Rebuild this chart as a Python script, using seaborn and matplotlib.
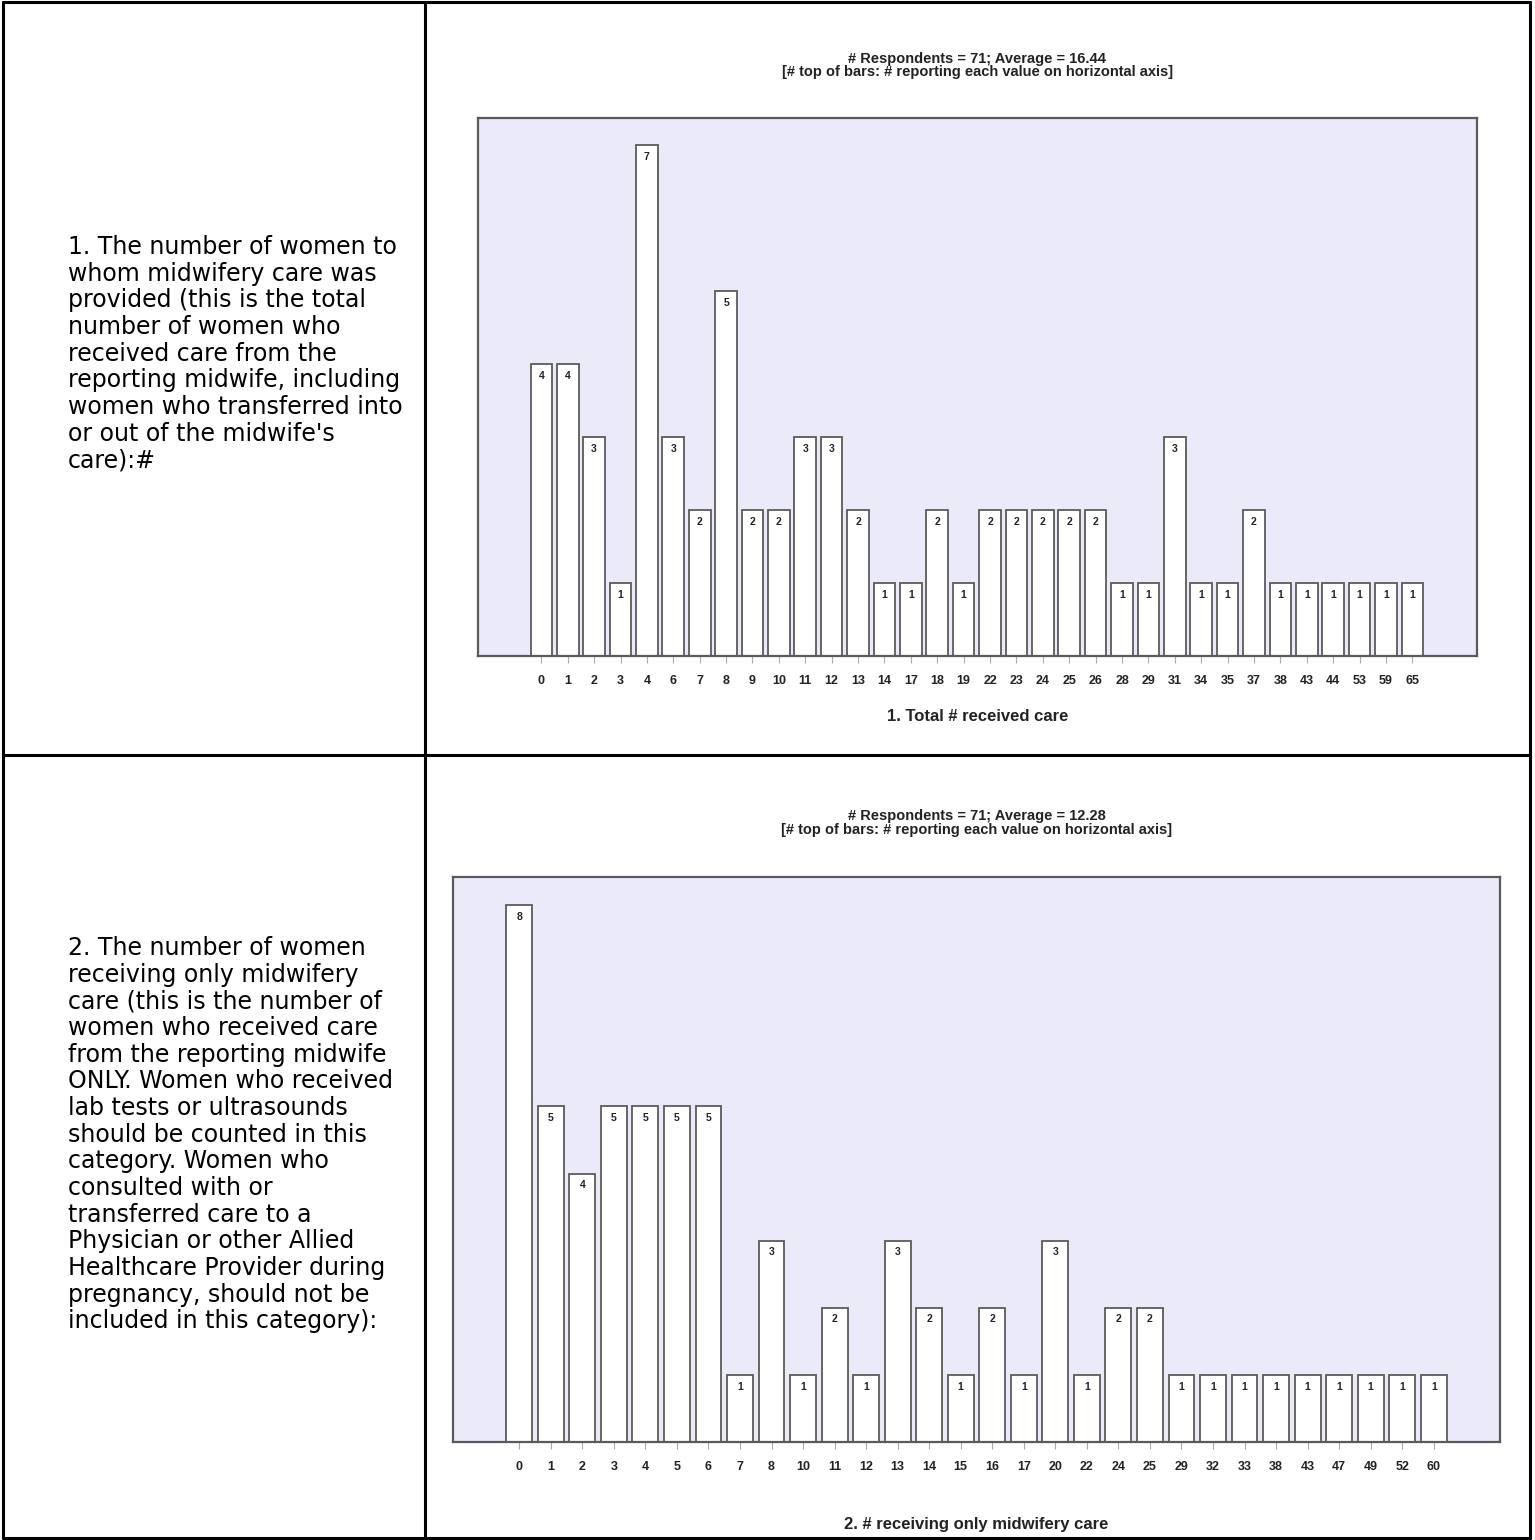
import matplotlib
matplotlib.use("Agg")
import matplotlib.pyplot as plt
from matplotlib.lines import Line2D
import pandas as pd
import seaborn as sns

# chart 1: total number of women who received care
total_values = [0, 1, 2, 3, 4, 6, 7, 8, 9, 10, 11, 12, 13, 14, 17, 18, 19, 22, 23, 24,
                25, 26, 28, 29, 31, 34, 35, 37, 38, 43, 44, 53, 59, 65]
total_counts = [4, 4, 3, 1, 7, 3, 2, 5, 2, 2, 3, 3, 2, 1, 1, 2, 1, 2, 2, 2,
                2, 2, 1, 1, 3, 1, 1, 2, 1, 1, 1, 1, 1, 1]

# chart 2: number receiving only midwifery care
only_values = [0, 1, 2, 3, 4, 5, 6, 7, 8, 10, 11, 12, 13, 14, 15, 16, 17, 20, 22, 24,
               25, 29, 32, 33, 38, 43, 47, 49, 52, 60]
only_counts = [8, 5, 4, 5, 5, 5, 5, 1, 3, 1, 2, 1, 3, 2, 1, 2, 1, 3, 1, 2,
               2, 1, 1, 1, 1, 1, 1, 1, 1, 1]

question_1 = ("1. The number of women to\nwhom midwifery care was\nprovided (this is the total\n"
              "number of women who\nreceived care from the\nreporting midwife, including\n"
              "women who transferred into\nor out of the midwife's\ncare):#")
question_2 = ("2. The number of women\nreceiving only midwifery\ncare (this is the number of\n"
              "women who received care\nfrom the reporting midwife\nONLY. Women who received\n"
              "lab tests or ultrasounds\nshould be counted in this\ncategory. Women who\n"
              "consulted with or\ntransferred care to a\nPhysician or other Allied\n"
              "Healthcare Provider during\npregnancy, should not be\nincluded in this category):")

title_1 = "# Respondents = 71; Average = 16.44\n[# top of bars: # reporting each value on horizontal axis]"
title_2 = "# Respondents = 71; Average = 12.28\n[# top of bars: # reporting each value on horizontal axis]"
xlabel_1 = "1. Total # received care"
xlabel_2 = "2. # receiving only midwifery care"

W, H = 1535, 1540
sns.set_theme(style="white")
plt.rcParams['font.family'] = ['Liberation Sans', 'DejaVu Sans']

fig = plt.figure(figsize=(W / 100, H / 100), dpi=100)
fig.patch.set_facecolor("white")


def px(x0, y0, x1, y1):
    # pixel box -> figure fraction rect
    return [x0 / W, 1 - y1 / H, (x1 - x0) / W, (y1 - y0) / H]


def draw_hist(rect, values, counts, title, xlabel, ylim, xpad, labelpad, titlepad):
    ax = fig.add_axes(rect)
    df = pd.DataFrame({"value": [str(v) for v in values], "count": counts})
    sns.barplot(data=df, x="value", y="count", order=df["value"], color="white",
                edgecolor="#5a5a5a", linewidth=1.3, width=0.82, saturation=1, ax=ax)
    for c in ax.containers:
        ax.bar_label(c, padding=-12, fontsize=7.5, fontweight="bold", color="#222222")
    ax.set_facecolor("#EAEAF8")
    ax.set_ylim(0, ylim)
    ax.set_xlim(-xpad[0], len(values) - 1 + xpad[1])
    ax.set_yticks([])
    ax.set_ylabel("")
    ax.tick_params(axis="x", bottom=True, length=5, width=0.8, color="#aaaaaa",
                   pad=9, labelsize=9, labelcolor="#222222")
    for lbl in ax.get_xticklabels():
        lbl.set_fontweight("bold")
    for s in ax.spines.values():
        s.set_color("#5a5a5a")
        s.set_linewidth(1.6)
    ax.set_xlabel(xlabel, fontsize=12, fontweight="bold", color="#222222", labelpad=labelpad)
    ax.set_title(title, fontsize=10.5, fontweight="bold", color="#222222",
                 linespacing=0.95, pad=titlepad)
    return ax


draw_hist(px(478, 118, 1477, 656), total_values, total_counts, title_1, xlabel_1,
          7.37, (2.4, 2.45), 15.5, 30)
draw_hist(px(453, 877, 1500, 1442), only_values, only_counts, title_2, xlabel_2,
          8.42, (2.1, 2.1), 31, 31)

# question text in the left column
fig.text(68 / W, 1 - 235 / H, question_1, fontsize=17, family=["DejaVu Sans"],
         va="top", ha="left", linespacing=1.14, color="black")
fig.text(68 / W, 1 - 936 / H, question_2, fontsize=17, family=["DejaVu Sans"],
         va="top", ha="left", linespacing=1.14, color="black")

# table borders
border = dict(color="black", linewidth=2.2, transform=fig.transFigure)
for (x0, y0, x1, y1) in [(3, 2, 1530, 2), (3, 1538, 1530, 1538), (3, 2, 3, 1538),
                         (1530, 2, 1530, 1538), (425, 2, 425, 1538), (3, 755, 1530, 755)]:
    fig.add_artist(Line2D([x0 / W, x1 / W], [1 - y0 / H, 1 - y1 / H], **border))

fig.savefig("out.png", dpi=100)
